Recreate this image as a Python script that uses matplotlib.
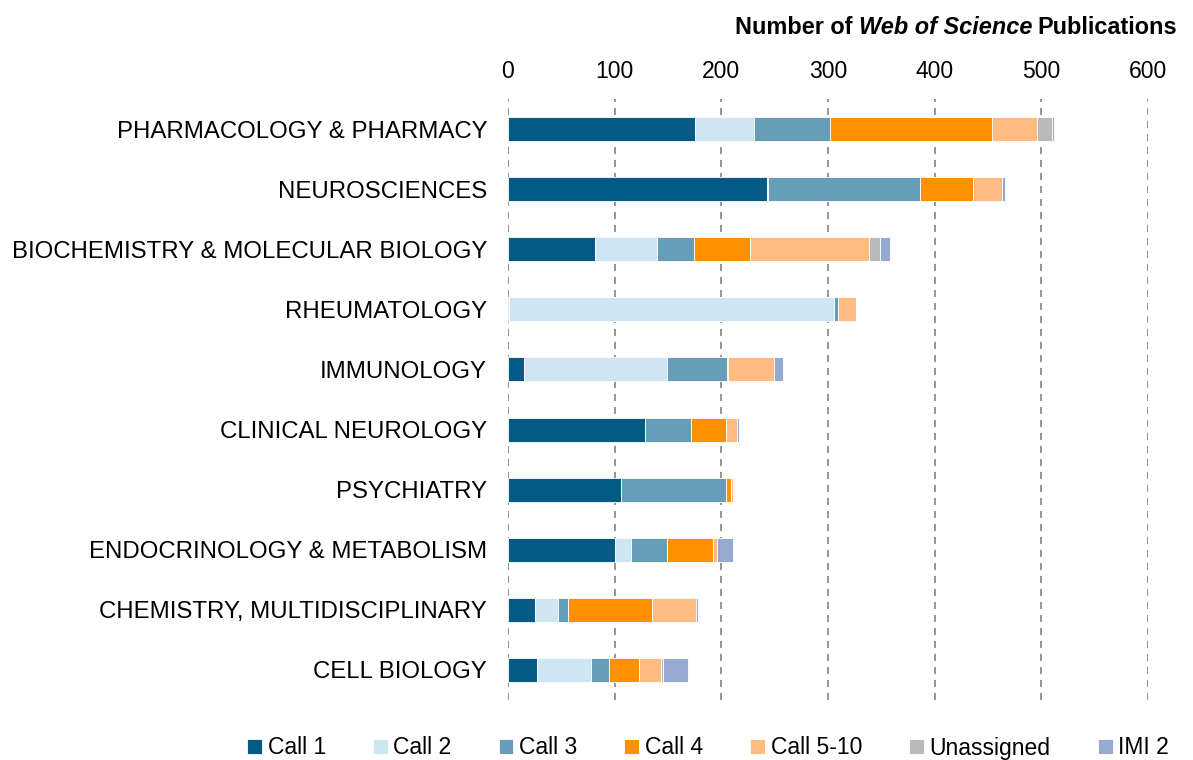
import matplotlib
matplotlib.use("Agg")
import matplotlib.pyplot as plt
import numpy as np

plt.rcParams['font.family'] = ['Liberation Sans', 'DejaVu Sans']

categories = ["PHARMACOLOGY & PHARMACY", "NEUROSCIENCES", "BIOCHEMISTRY & MOLECULAR BIOLOGY",
              "RHEUMATOLOGY", "IMMUNOLOGY", "CLINICAL NEUROLOGY", "PSYCHIATRY",
              "ENDOCRINOLOGY & METABOLISM", "CHEMISTRY, MULTIDISCIPLINARY", "CELL BIOLOGY"]
series_names = ["Call 1", "Call 2", "Call 3", "Call 4", "Call 5-10", "Unassigned", "IMI 2"]
call1 = [175, 243, 82, 1, 15, 128, 106, 100, 25, 27]
call2 = [56, 1, 58, 305, 134, 0, 0, 15, 22, 51]
call3 = [71, 142, 34, 3, 56, 44, 98, 34, 9, 17]
call4 = [152, 50, 53, 0, 1, 32, 5, 43, 79, 28]
call5_10 = [42, 27, 111, 17, 43, 11, 2, 4, 41, 20]
unassigned = [14, 0, 11, 0, 0, 0, 0, 0, 0, 2]
imi2 = [2, 3, 9, 0, 9, 2, 1, 15, 2, 24]
colors = ["#035a84", "#cee6f1", "#679db8", "#ff9100", "#ffbc80", "#b9b9b9", "#95a9d1"]
xticks = [0, 100, 200, 300, 400, 500, 600]

series = [call1, call2, call3, call4, call5_10, unassigned, imi2]

fig = plt.figure(figsize=(11.93, 7.6), dpi=100)
ax = fig.add_axes([508/1193, 1-700/760, (1148-508)/1193, 601/760])

y = np.arange(len(categories))
left = np.zeros(len(categories))
handles = []
for name, vals, c in zip(series_names, series, colors):
    vals = np.array(vals, dtype=float)
    h = ax.barh(y, vals, left=left, height=0.4, color=c, edgecolor='white',
                linewidth=0.6, label=name, zorder=3)
    handles.append(h)
    left += vals

ax.set_ylim(len(categories)-0.5, -0.5)
ax.set_xlim(0, 600)
ax.set_yticks(y)
ax.set_yticklabels(categories, fontsize=17.3)
ax.set_xticks(xticks)
ax.set_xticklabels([str(t) for t in xticks], fontsize=16.5)
ax.xaxis.tick_top()
ax.tick_params(axis='x', length=0, pad=11.5)
ax.tick_params(axis='y', length=0, pad=15)
for s in ax.spines.values():
    s.set_visible(False)
ax.xaxis.grid(True, linestyle=(0, (3.9, 3.3)), color='#8c8c8c', linewidth=1.3, zorder=0)
ax.set_axisbelow(True)

# Title composed of pieces
fig.canvas.draw()
r = fig.canvas.get_renderer()
xr = 1177/1193
yt = 1 - 28/760
t3 = fig.text(xr, yt, "Publications", ha='right', va='center', fontsize=16.9, fontweight='bold')
bb = t3.get_window_extent(r)
x2 = (bb.x0 - 5) / fig.bbox.width
t2 = fig.text(x2, yt, "Web of Science", ha='right', va='center', fontsize=16.9,
              fontweight='bold', fontstyle='italic')
bb = t2.get_window_extent(r)
x1 = (bb.x0 - 6) / fig.bbox.width
fig.text(x1, yt, "Number of", ha='right', va='center', fontsize=16.9, fontweight='bold')

fig.legend(handles=handles, labels=series_names, loc='center', ncol=7,
           bbox_to_anchor=(708/1193, 1-748/760), frameon=False, fontsize=16.5,
           handlelength=0.65, handleheight=0.65, handletextpad=0.25, columnspacing=2.05,
           borderaxespad=0)

fig.savefig("out.png", dpi=100)
